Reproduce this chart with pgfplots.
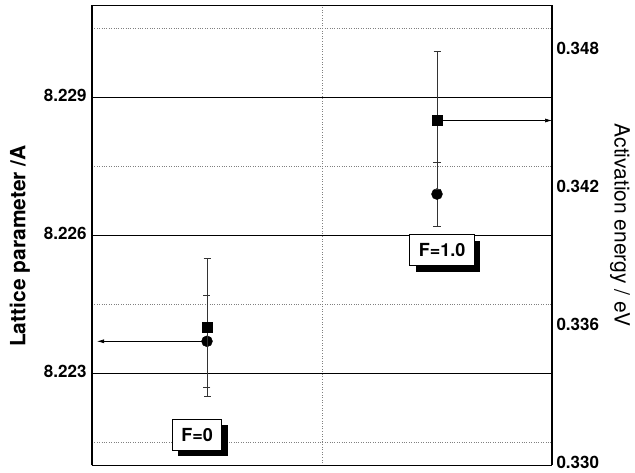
\documentclass[border=0pt]{standalone}
\usepackage{fontspec}
\setmainfont{TeX Gyre Heros}
\usepackage{pgfplots}
\pgfplotsset{compat=1.18}
\usetikzlibrary{arrows.meta,shadows}
\tikzset{
  flabel/.style={draw=black, fill=white, line width=1pt, inner xsep=9pt,
    minimum height=31pt,
    font=\bfseries\fontsize{18}{18}\selectfont,
    drop shadow={opacity=1, fill=black, shadow xshift=6pt, shadow yshift=-6pt}},
}
\begin{document}
\begin{tikzpicture}
\pgfplotsset{
  common/.style={
    width=460pt, height=460pt, scale only axis,
    xmin=-0.5, xmax=1.5,
    major tick length=0pt, minor tick length=0pt,
    scaled y ticks=false,
    /pgf/number format/assume math mode=true,
    /pgf/number format/.cd, fixed, precision=3, fixed zerofill,
  },
}
\begin{axis}[common,
  ymin=8.221, ymax=8.231,
  axis line style={black, line width=1.1pt},
  axis y line*=left,
  xtick={0.5}, xticklabels={},
  xmajorgrids, x grid style={gray, dotted, line width=0.7pt},
  ytick={8.223,8.226,8.229},
  minor ytick={8.2215,8.2245,8.2275,8.2305},
  ymajorgrids, yminorgrids,
  major grid style={black, line width=0.6pt},
  minor grid style={gray, dotted, line width=0.7pt},
  yticklabel style={font=\bfseries\fontsize{17}{17}\selectfont, xshift=-2pt, yshift=2pt},
  ylabel={Lattice parameter /A},
  ylabel style={font=\bfseries\fontsize{21}{21}\selectfont,
    at={(axis description cs:-0.157,0.477)}, anchor=center},
  clip=false,
]
\coordinate (SW) at (rel axis cs:0,0);
\draw[black, line width=1.1pt] (rel axis cs:0,0) -- (rel axis cs:1,0);
\draw[black, line width=1.6pt] (rel axis cs:0,1) -- (rel axis cs:1,1);
\addplot[black, line width=0.6pt, -{Latex[length=7pt,width=4pt]}] coordinates {(0,8.2237) (-0.478,8.2237)};
\addplot[only marks, mark=*, mark size=5.5pt, black,
  error bars/.cd, y dir=both, y explicit,
  error bar style={black!80, line width=0.6pt},
  error mark options={rotate=90, mark size=3.5pt, black!80, line width=0.6pt}]
  coordinates {(0,8.2237) +- (0,0.001) (1,8.2269) +- (0,0.0007)};
\node[flabel] at (axis cs:-0.043,8.22167) {F=0};
\node[flabel] at (axis cs:1.022,8.22568) {F=1.0};
\end{axis}
\begin{axis}[common,
  ymin=0.330, ymax=0.350,
  axis line style={black, line width=1.1pt},
  axis y line*=right, axis x line=none,
  ytick={0.330,0.336,0.342,0.348},
  yticklabel style={font=\bfseries\fontsize{17}{17}\selectfont, xshift=1pt, yshift=3pt},
  ylabel={Activation energy / eV},
  ylabel style={font=\fontsize{21}{21}\selectfont, rotate=180,
    at={(axis description cs:1.148,0.523)}, anchor=center},
  clip=false,
]
\addplot[black, line width=0.6pt, -{Latex[length=7pt,width=4pt]}] coordinates {(1,0.3450) (1.5,0.3450)};
\addplot[only marks, mark=square*, mark size=5pt, black,
  error bars/.cd, y dir=both, y explicit,
  error bar style={black!80, line width=0.6pt},
  error mark options={rotate=90, mark size=3.5pt, black!80, line width=0.6pt}]
  coordinates {(0,0.3360) +- (0,0.003) (1,0.3450) +- (0,0.003)};
\end{axis}
\pgfresetboundingbox
\path (SW) ++(-92pt,-7.5pt) rectangle ++(635pt,473pt);
\end{tikzpicture}
\end{document}
